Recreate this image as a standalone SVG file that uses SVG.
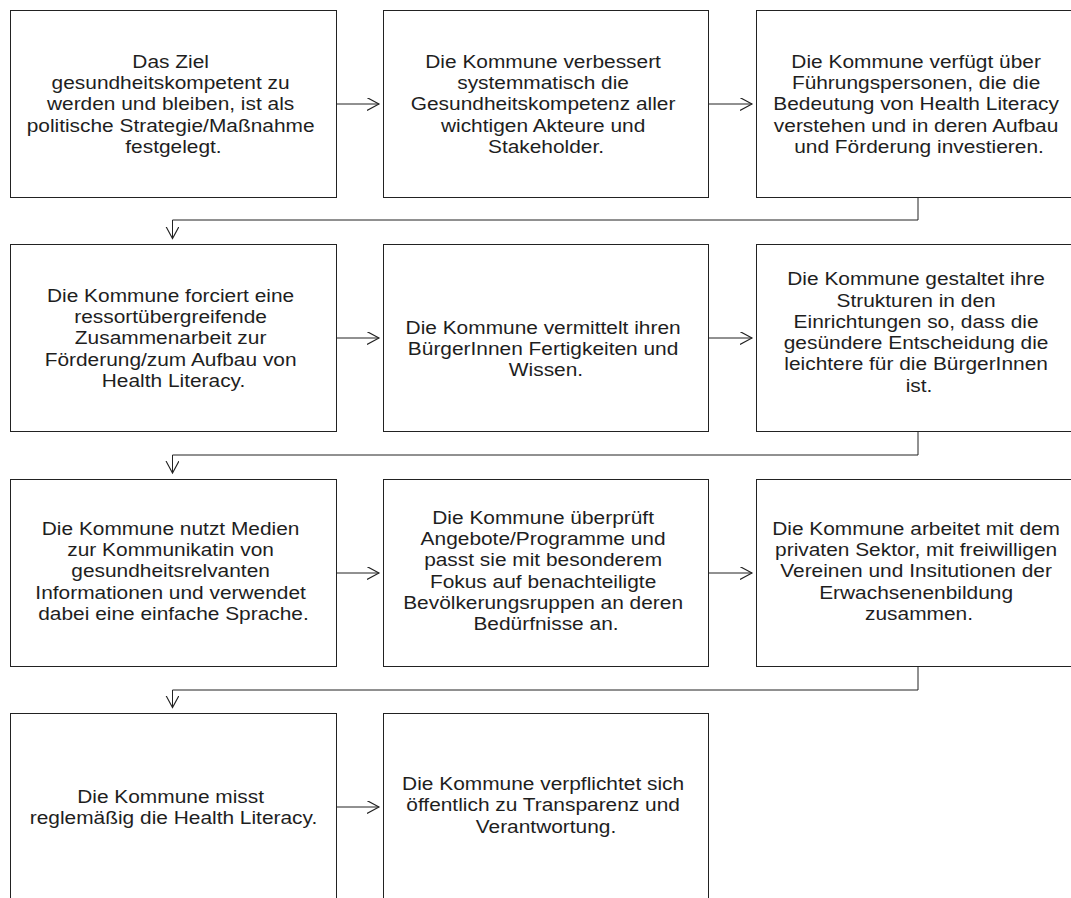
<svg xmlns="http://www.w3.org/2000/svg" width="1071" height="898" viewBox="0 0 1071 898">
  <style>
    .box { fill: #ffffff; stroke: #222222; stroke-width: 1; }
    .lbl { font-family: "Liberation Sans", Arial, sans-serif; font-size: 18.5px; fill: #1e1e1e; text-anchor: middle; }
    .conn { fill: none; stroke: #222222; stroke-width: 1; }
  </style>
  <defs>
    <marker id="open" markerUnits="userSpaceOnUse" markerWidth="16" markerHeight="16" refX="12" refY="6.5" orient="auto" viewBox="0 0 16 16">
      <path d="M0,0 L12,6.5 L0,13" fill="none" stroke="#222222" stroke-width="1.1"/>
    </marker>
  </defs>
  <rect width="1071" height="898" fill="#ffffff"/>

  <!-- connectors -->
  <g id="connectors">
    <path class="conn" d="M336.5 104 H379" marker-end="url(#open)"/>
    <path class="conn" d="M709 104 H752" marker-end="url(#open)"/>
    <path class="conn" d="M918 197.5 V220 H172.5 V238.5" marker-end="url(#open)"/>
    <path class="conn" d="M336.5 338 H379" marker-end="url(#open)"/>
    <path class="conn" d="M709 338 H752" marker-end="url(#open)"/>
    <path class="conn" d="M918 431.5 V455 H172.5 V473" marker-end="url(#open)"/>
    <path class="conn" d="M336.5 573 H379" marker-end="url(#open)"/>
    <path class="conn" d="M709 573 H752" marker-end="url(#open)"/>
    <path class="conn" d="M918 666.5 V690 H172.5 V707.5" marker-end="url(#open)"/>
    <path class="conn" d="M336.5 807 H379" marker-end="url(#open)"/>
  </g>

  <!-- row 1 -->
  <g id="node-ziel">
    <rect class="box" x="10.5" y="10.5" width="326" height="187"/>
    <text class="lbl" transform="translate(173.5 0) scale(1.13 1)">
      <tspan x="0" y="67.9">Das Ziel</tspan>
      <tspan x="0" dy="21.3">gesundheitskompetent zu</tspan>
      <tspan x="0" dy="21.3">werden und bleiben, ist als</tspan>
      <tspan x="0" dy="21.3">politische Strategie/Maßnahme</tspan>
      <tspan x="0" dy="21.3">festgelegt.</tspan>
    </text>
  </g>
  <g id="node-verbessert">
    <rect class="box" x="383.5" y="10.5" width="325" height="187"/>
    <text class="lbl" transform="translate(546 0) scale(1.13 1)">
      <tspan x="0" y="67.9">Die Kommune verbessert</tspan>
      <tspan x="0" dy="21.3">systemmatisch die</tspan>
      <tspan x="0" dy="21.3">Gesundheitskompetenz aller</tspan>
      <tspan x="0" dy="21.3">wichtigen Akteure und</tspan>
      <tspan x="0" dy="21.3">Stakeholder.</tspan>
    </text>
  </g>
  <g id="node-fuehrung">
    <rect class="box" x="756.5" y="10.5" width="326" height="187"/>
    <text class="lbl" transform="translate(919 0) scale(1.13 1)">
      <tspan x="0" y="67.9">Die Kommune verfügt über</tspan>
      <tspan x="0" dy="21.3">Führungspersonen, die die</tspan>
      <tspan x="0" dy="21.3">Bedeutung von Health Literacy</tspan>
      <tspan x="0" dy="21.3">verstehen und in deren Aufbau</tspan>
      <tspan x="0" dy="21.3">und Förderung investieren.</tspan>
    </text>
  </g>

  <!-- row 2 -->
  <g id="node-ressort">
    <rect class="box" x="10.5" y="244.5" width="326" height="187"/>
    <text class="lbl" transform="translate(173.5 0) scale(1.13 1)">
      <tspan x="0" y="301.9">Die Kommune forciert eine</tspan>
      <tspan x="0" dy="21.3">ressortübergreifende</tspan>
      <tspan x="0" dy="21.3">Zusammenarbeit zur</tspan>
      <tspan x="0" dy="21.3">Förderung/zum Aufbau von</tspan>
      <tspan x="0" dy="21.3">Health Literacy.</tspan>
    </text>
  </g>
  <g id="node-vermittelt">
    <rect class="box" x="383.5" y="244.5" width="325" height="187"/>
    <text class="lbl" transform="translate(546 0) scale(1.13 1)">
      <tspan x="0" y="333.9">Die Kommune vermittelt ihren</tspan>
      <tspan x="0" dy="21.3">BürgerInnen Fertigkeiten und</tspan>
      <tspan x="0" dy="21.3">Wissen.</tspan>
    </text>
  </g>
  <g id="node-strukturen">
    <rect class="box" x="756.5" y="244.5" width="326" height="187"/>
    <text class="lbl" transform="translate(919 0) scale(1.13 1)">
      <tspan x="0" y="285.3">Die Kommune gestaltet ihre</tspan>
      <tspan x="0" dy="21.3">Strukturen in den</tspan>
      <tspan x="0" dy="21.3">Einrichtungen so, dass die</tspan>
      <tspan x="0" dy="21.3">gesündere Entscheidung die</tspan>
      <tspan x="0" dy="21.3">leichtere für die BürgerInnen</tspan>
      <tspan x="0" dy="21.3">ist.</tspan>
    </text>
  </g>

  <!-- row 3 -->
  <g id="node-medien">
    <rect class="box" x="10.5" y="479.5" width="326" height="187"/>
    <text class="lbl" transform="translate(173.5 0) scale(1.13 1)">
      <tspan x="0" y="534.9">Die Kommune nutzt Medien</tspan>
      <tspan x="0" dy="21.3">zur Kommunikatin von</tspan>
      <tspan x="0" dy="21.3">gesundheitsrelvanten</tspan>
      <tspan x="0" dy="21.3">Informationen und verwendet</tspan>
      <tspan x="0" dy="21.3">dabei eine einfache Sprache.</tspan>
    </text>
  </g>
  <g id="node-angebote">
    <rect class="box" x="383.5" y="479.5" width="325" height="187"/>
    <text class="lbl" transform="translate(546 0) scale(1.13 1)">
      <tspan x="0" y="523.8">Die Kommune überprüft</tspan>
      <tspan x="0" dy="21.3">Angebote/Programme und</tspan>
      <tspan x="0" dy="21.3">passt sie mit besonderem</tspan>
      <tspan x="0" dy="21.3">Fokus auf benachteiligte</tspan>
      <tspan x="0" dy="21.3">Bevölkerungsruppen an deren</tspan>
      <tspan x="0" dy="21.3">Bedürfnisse an.</tspan>
    </text>
  </g>
  <g id="node-sektor">
    <rect class="box" x="756.5" y="479.5" width="326" height="187"/>
    <text class="lbl" transform="translate(919 0) scale(1.13 1)">
      <tspan x="0" y="534.9">Die Kommune arbeitet mit dem</tspan>
      <tspan x="0" dy="21.3">privaten Sektor, mit freiwilligen</tspan>
      <tspan x="0" dy="21.3">Vereinen und Insitutionen der</tspan>
      <tspan x="0" dy="21.3">Erwachsenenbildung</tspan>
      <tspan x="0" dy="21.3">zusammen.</tspan>
    </text>
  </g>

  <!-- row 4 -->
  <g id="node-misst">
    <rect class="box" x="10.5" y="713.5" width="326" height="187"/>
    <text class="lbl" transform="translate(173.5 0) scale(1.13 1)">
      <tspan x="0" y="802.9">Die Kommune misst</tspan>
      <tspan x="0" dy="21.3">reglemäßig die Health Literacy.</tspan>
    </text>
  </g>
  <g id="node-transparenz">
    <rect class="box" x="383.5" y="713.5" width="325" height="187"/>
    <text class="lbl" transform="translate(546 0) scale(1.13 1)">
      <tspan x="0" y="790.2">Die Kommune verpflichtet sich</tspan>
      <tspan x="0" dy="21.3">öffentlich zu Transparenz und</tspan>
      <tspan x="0" dy="21.3">Verantwortung.</tspan>
    </text>
  </g>
</svg>
